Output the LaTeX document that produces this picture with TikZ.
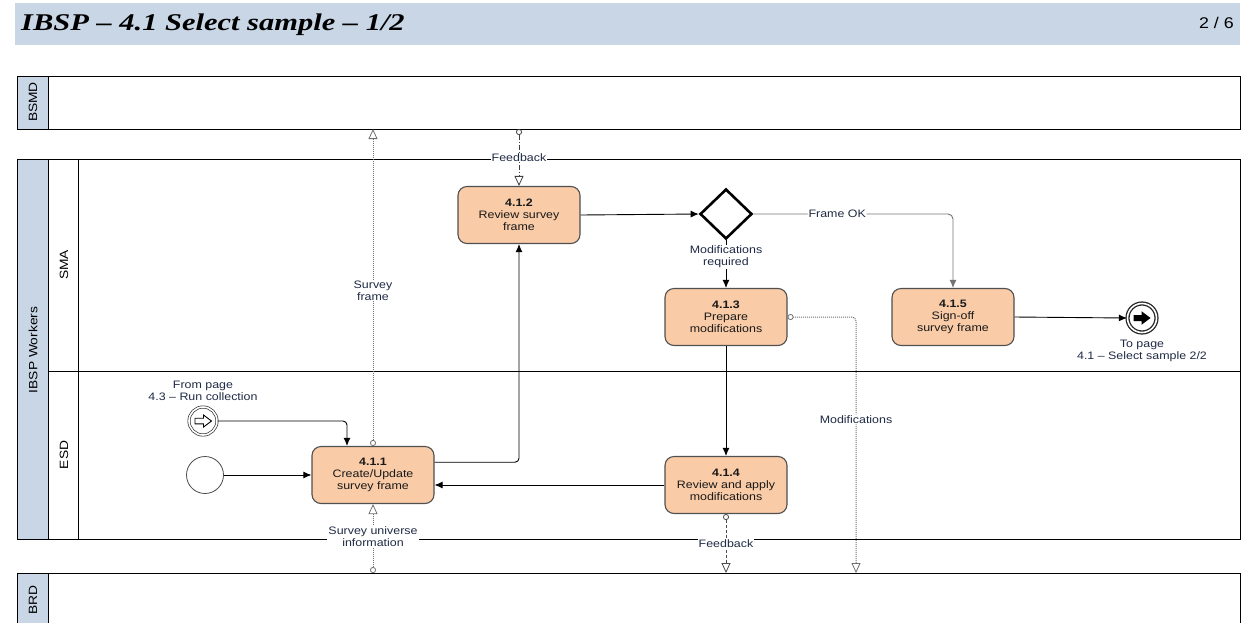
\documentclass[tikz,border=0pt]{standalone}
\usepackage{fontspec}
\setsansfont{Liberation Sans}[FakeStretch=1.15]
\newfontfamily\titlefont{Liberation Serif}[FakeStretch=1.27]
\usetikzlibrary{arrows.meta,shapes.geometric,calc,positioning}

\definecolor{headblue}{HTML}{C9D6E6}
\definecolor{taskfill}{HTML}{F9CBA7}
\definecolor{taskline}{HTML}{505050}
\definecolor{msggray}{HTML}{707070}
\definecolor{txtblue}{HTML}{1F2A44}

\begin{document}
\begin{tikzpicture}[x=1pt,y=-1pt,
  font=\sffamily\fontsize{10.8}{12}\selectfont,
  pool/.style={draw=black, line width=1pt},
  head/.style={draw=black, fill=headblue, line width=1pt},
  lanetxt/.style={rotate=90, font=\sffamily\fontsize{12}{14}\selectfont},
  task/.style={draw=taskline, fill=taskfill, rounded corners=9pt,
    minimum width=122pt, minimum height=57pt, align=center,
    line width=1.1pt, inner sep=2pt, text=black!90},
  gate/.style={draw=black, fill=white, diamond, aspect=1,
    minimum width=52pt, minimum height=50pt, line width=2.6pt, inner sep=0pt},
  seq/.style={draw=black, line width=0.9pt, -{Latex[length=8pt,width=7pt]}},
  msg/.style={draw=msggray, line width=1pt, densely dotted,
    {Circle[open,length=6pt,width=6pt,line width=0.8pt]}-{Triangle[open,length=10pt,width=9pt,line width=0.8pt]}},
  lbl/.style={fill=white, inner sep=1pt, align=center, text=txtblue},
  evtxt/.style={align=center, text=txtblue}]

\useasboundingbox (0,0) rectangle (1245,622);

% title bar
\fill[headblue] (15,3) rectangle (1240,45);
\node[anchor=west, inner sep=0pt, font=\titlefont\bfseries\itshape\fontsize{24}{26}\selectfont] (title) at (21,25) {IBSP – 4.1 Select sample – 1/2};
\node[anchor=east, inner sep=0pt, font=\sffamily\fontsize{15.5}{17}\selectfont] (pageno) at (1234,23) {2 / 6};

% pool BSMD
\draw[pool] (17,76) rectangle (1240,129);
\draw[head] (17,76) rectangle (48,129);
\node[lanetxt] (bsmdname) at (33,102) {BSMD};
\coordinate (bsmdS) at (0,129);

% pool IBSP Workers with lanes SMA and ESD
\draw[pool] (17,159) rectangle (1240,539);
\draw[head] (17,159) rectangle (48,539);
\draw[pool] (78,159) -- (78,539);
\draw[pool] (48,371) -- (1240,371);
\node[lanetxt] (ibspname) at (33,350) {IBSP Workers};
\node[lanetxt] (smaname) at (64,265) {SMA};
\node[lanetxt] (esdname) at (64,455) {ESD};
\coordinate (ibspN) at (0,159);

% pool BRD (continues below the page)
\fill[headblue] (17,573) rectangle (48,630);
\draw[pool] (17,630) -- (17,573) -- (1240,573) -- (1240,630);
\draw[pool] (48,573) -- (48,630);
\node[lanetxt] (brdname) at (33,600) {BRD};
\coordinate (brdN) at (0,573);

% activities
\node[task] (t111) at (373,475) {\textbf{4.1.1}\\Create/Update\\survey frame};
\node[task] (t112) at (519,215) {\textbf{4.1.2}\\Review survey\\frame};
\node[task] (t113) at (726,317) {\textbf{4.1.3}\\Prepare\\modifications};
\node[task] (t114) at (726,485) {\textbf{4.1.4}\\Review and apply\\modifications};
\node[task] (t115) at (953,317) {\textbf{4.1.5}\\Sign-off\\survey frame};

% gateway
\node[gate] (gw) at (726,214) {};

% events
\node[circle, draw=black!70, line width=0.8pt, minimum size=37pt, inner sep=0pt] (start) at (205,475) {};
\node[circle, draw=black!80, line width=0.7pt, double, double distance=1.6pt, minimum size=28pt, inner sep=0pt] (lnk) at (203,421) {};
\draw[line width=0.9pt, fill=white] ($(lnk)+(-8,-2.8)$) -- ++(8.5,0) -- ++(0,-3.2) -- ($(lnk)+(8.5,0)$) -- ($(lnk)+(0.5,6)$) -- ++(0,-3.2) -- ($(lnk)+(-8,2.8)$) -- cycle;
\node[evtxt, above=3pt of lnk] (lnktxt) {From page\\4.3 – Run collection};

\node[circle, draw=black!85, line width=1.3pt, double, double distance=1.6pt, minimum size=29pt, inner sep=0pt] (endev) at (1142,318) {};
\fill[black] ($(endev)+(-8.5,-3)$) -- ++(8,0) -- ++(0,-3.8) -- ($(endev)+(8.5,0)$) -- ($(endev)+(-0.5,6.8)$) -- ++(0,-3.8) -- ($(endev)+(-8.5,3)$) -- cycle;
\node[evtxt, below=3pt of endev] (endtxt) {To page\\4.1 – Select sample 2/2};

% sequence flows
\draw[seq] (start.east) -- (t111.west);
\draw[seq, rounded corners=4pt] (lnk.east) -| ($(t111.north)+(-26,0)$);
\draw[seq, rounded corners=4pt] ($(t111.north east)!0.28!(t111.south east)$) -| (t112.south);
\draw[seq] (t112.east) -- (gw.west);
\draw[seq, draw=black!55, rounded corners=5pt] (gw.east) -| node[lbl, pos=0.21] {Frame OK} (t115.north);
\draw[seq] (gw.south) -- node[lbl, pos=0.35] {Modifications\\required} (t113.north);
\draw[seq] (t113.south) -- (t114.north);
\draw[seq] (t114.west) -- (t114.west -| t111.east);
\draw[seq] (t115.east) -- (endev.west);

% message flows
\draw[msg] (t111.north) -- node[lbl, pos=0.49] {Survey\\frame} (t111.north |- bsmdS);
\draw[msg, dash pattern=on 5pt off 2pt on 1pt off 2pt, draw=black!75] (t112.north |- bsmdS) -- node[lbl, pos=0.5] {Feedback} (t112.north);
\draw[msg, rounded corners=4pt] (t113.east) -| node[lbl, pos=0.70] {Modifications} (856,573);
\draw[msg, dashed, dash pattern=on 3pt off 2pt, draw=black!70] (t114.south) -- node[lbl, pos=0.5] {Feedback} (t114.south |- brdN);
\draw[msg] (t111.south |- brdN) -- node[lbl, pos=0.53] {Survey universe\\information} (t111.south);

\end{tikzpicture}
\end{document}
